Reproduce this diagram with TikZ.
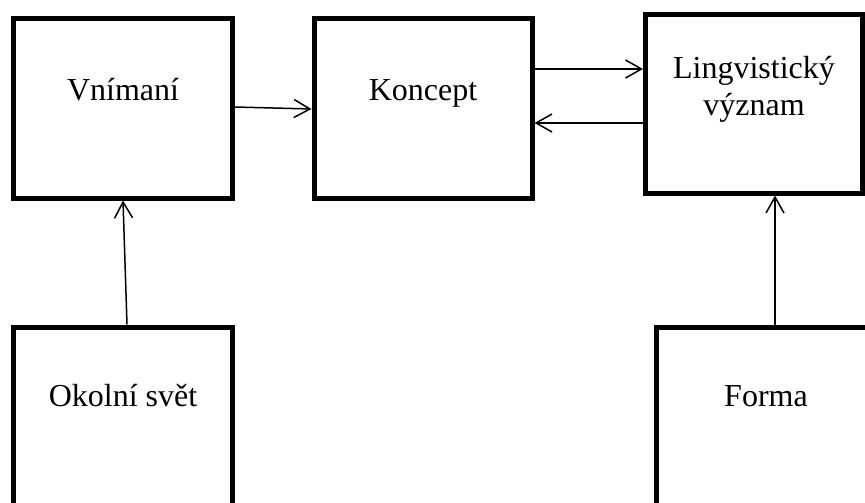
\documentclass[tikz,border=0pt]{standalone}
\usepackage{fontspec}
\setmainfont{Liberation Serif}
\usetikzlibrary{positioning}
\usetikzlibrary{arrows.meta, calc}

\tikzset{
    box/.style={draw, line width=5pt, minimum width=219pt, minimum height=179pt, inner sep=0pt},
    boxtext/.style={font=\fontsize{32}{37}\selectfont, anchor=base, align=center},
    link/.style={->, line width=1.5pt},
    >={Straight Barb[length=16pt, width=18pt, line width=1.5pt]}
}

\begin{document}
\begin{tikzpicture}[x=1pt, y=-1pt]
    % frame of the picture
    \useasboundingbox (0,0) rectangle (865,503);
    \clip (0,0) rectangle (865,503);

    % upper row
    \node[box] (vnimani) at (123,108.5) {};
    \node[box, minimum width=218pt] (koncept) at (423,108.5) {};
    \node[box, minimum width=217pt, minimum height=178pt] (vyznam) at (754,104) {};

    % lower row
    \node[box] (okoli) at (123,416.5) {};
    \node[box, minimum width=217pt] (forma) at (764.5,416.5) {};

    % texts
    \node[boxtext] (t-vnimani) at ([yshift=-83.5pt]vnimani.north) {Vnímaní};
    \node[boxtext] (t-koncept) at ([yshift=-83.5pt]koncept.north) {Koncept};
    \node[boxtext] (t-vyznam) at ([yshift=-102.5pt]vyznam.north) {Lingvistický\\význam};
    \node[boxtext] (t-okoli) at ([yshift=-81.5pt]okoli.north) {Okolní svět};
    \node[boxtext, xshift=1.5pt] (t-forma) at ([yshift=-81.5pt]forma.north) {Forma};

    % connections
    \draw[link] ([yshift=1.5pt]vnimani.east) -- ([yshift=-0.5pt]koncept.west);
    \draw[link] ([yshift=39.5pt]koncept.east) -- ([yshift=39.5pt]koncept.east -| vyznam.west);
    \draw[link] ([yshift=-14.5pt]koncept.east -| vyznam.west) -- ([yshift=-14.5pt]koncept.east);
    \draw[link] ([xshift=4pt]okoli.north) -- (vnimani.south);
    \draw[link] ([xshift=21pt]vyznam.south |- forma.north) -- ([xshift=21pt]vyznam.south);
\end{tikzpicture}
\end{document}
